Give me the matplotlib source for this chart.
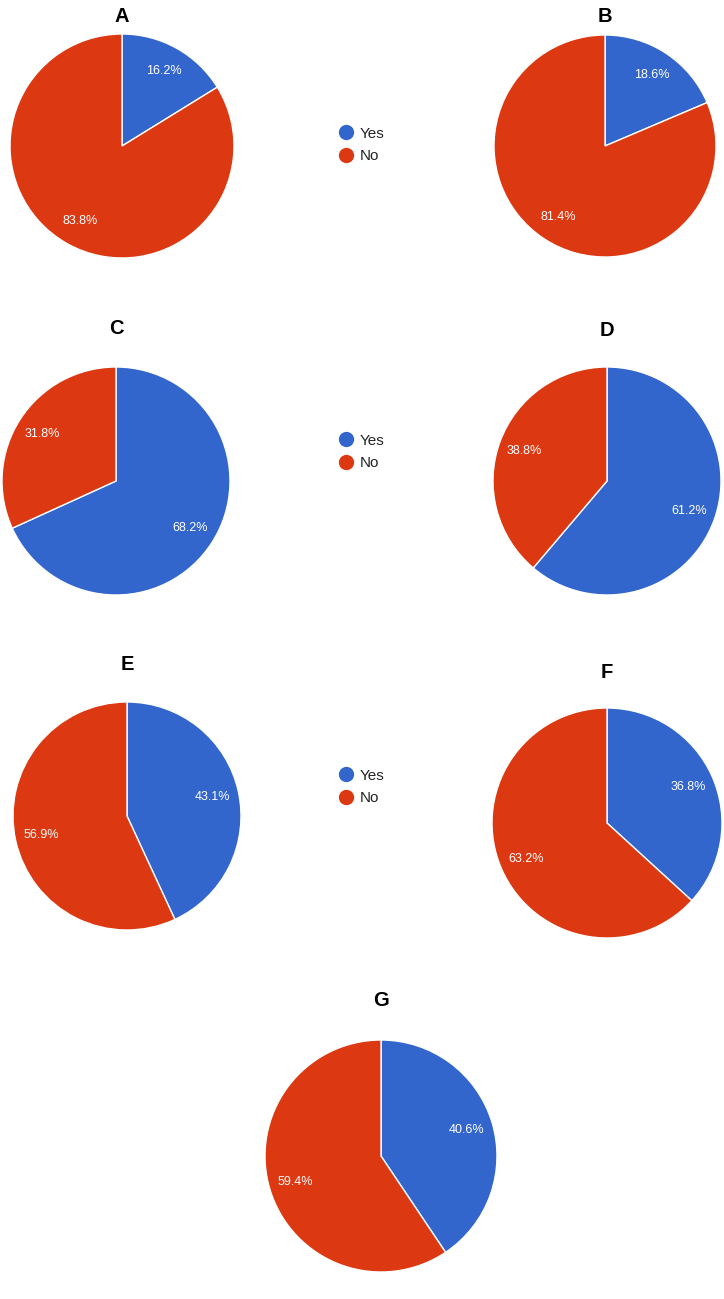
import matplotlib
matplotlib.use("Agg")
import matplotlib.pyplot as plt
from matplotlib.lines import Line2D

plt.rcParams['font.family'] = ['Liberation Sans', 'DejaVu Sans']

panels = ['A', 'B', 'C', 'D', 'E', 'F', 'G']
yes_pct = [16.2, 18.6, 68.2, 61.2, 43.1, 36.8, 40.6]
no_pct = [83.8, 81.4, 31.8, 38.8, 56.9, 63.2, 59.4]
categories = ['Yes', 'No']

# layout in pixels: centre x, centre y, radius, title y
centres = [(122, 146, 112, 16), (605, 146, 111, 16),
           (116, 481, 114, 328), (607, 481, 114, 331),
           (127, 816, 114, 664), (607, 823, 115, 672),
           (381, 1156, 116, 1001)]
legend_y = [145, 452, 787]

W, H = 724, 1299
blue = '#3366CC'
red = '#DC3912'

fig = plt.figure(figsize=(W / 100, H / 100), dpi=100)

for name, y, n, (cx, cy, r, ty) in zip(panels, yes_pct, no_pct, centres):
    ax = fig.add_axes([(cx - r) / W, (H - cy - r) / H, 2 * r / W, 2 * r / H])
    wedges, texts, autotexts = ax.pie(
        [y, n], colors=[blue, red], startangle=90, counterclock=False,
        autopct='%1.1f%%', pctdistance=0.77, radius=1,
        wedgeprops=dict(edgecolor='white', linewidth=1),
        textprops=dict(color='white', fontsize=9))
    ax.set_xlim(-1, 1)
    ax.set_ylim(-1, 1)
    ax.axis('off')
    fig.text(cx / W, 1 - ty / H, name, ha='center', va='center',
             fontsize=14.5, fontweight='bold')

for ly in legend_y:
    handles = [Line2D([], [], marker='o', linestyle='', markersize=10,
                      color=c) for c in (blue, red)]
    fig.legend(handles, categories, loc='center left',
               bbox_to_anchor=(323 / W, 1 - ly / H), frameon=False,
               fontsize=11, handletextpad=0.3, labelspacing=0.55,
               handlelength=1.2, labelcolor='#222222')

fig.savefig('out.png', dpi=100, facecolor='white')
